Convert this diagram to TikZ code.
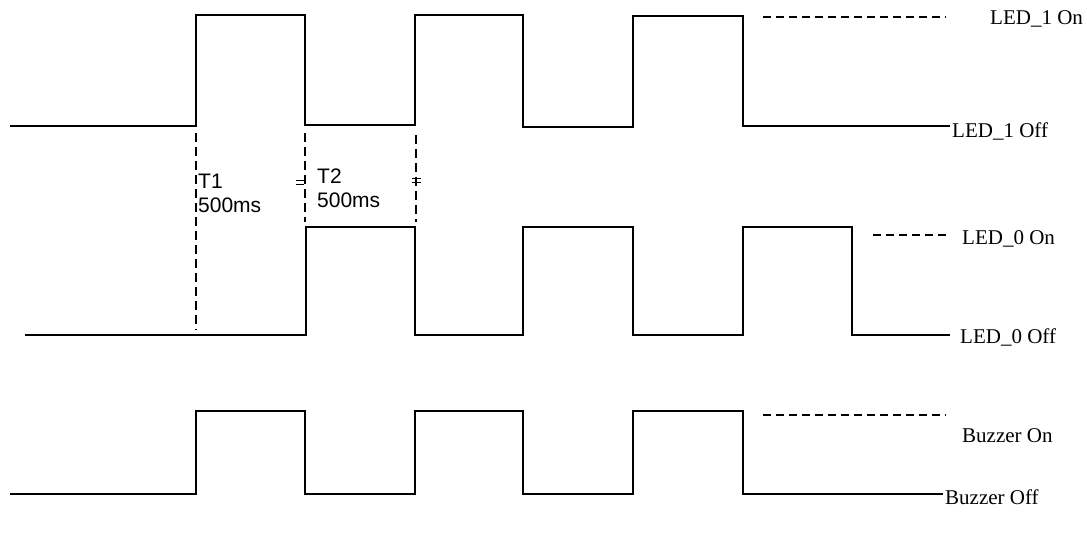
\documentclass[tikz,border=0pt]{standalone}
\usepackage{fontspec}
\setmainfont{Liberation Serif}
\setsansfont{Liberation Sans}
\begin{document}
\begin{tikzpicture}[
  x=1pt,y=-1pt,
  wave/.style={line width=1.5pt,line join=miter},
  level/.style={line width=1.3pt,dash pattern=on 8pt off 5pt},
  guide/.style={line width=1.3pt,dash pattern=on 9pt off 5pt},
  state/.style={anchor=base west,inner sep=0pt,font=\fontsize{21}{24}\selectfont},
  period/.style={anchor=north west,inner sep=0pt,align=left,font=\sffamily\fontsize{21}{24}\selectfont}
]
\useasboundingbox (0,0) rectangle (1087,537);
% LED_1 trace
\draw[wave] (10,126) -| (196,15) -| (305,125) -| (415,15) -| (523,127) -| (633,16) -| (743,126) -- (950,126);
% LED_0 trace
\draw[wave] (25,335) -| (306,227) -| (415,335) -| (523,227) -| (633,335) -| (743,227) -| (852,335) -- (950,335);
% buzzer trace
\draw[wave] (10,494) -| (196,411) -| (305,494) -| (415,411) -| (523,494) -| (633,411) -| (743,494) -- (943,494);
% on levels
\draw[level] (763,17) -- (946,17);
\draw[level] (873,235) -- (947,235);
\draw[level] (763,415) -- (946,415);
% timing guides
\draw[guide] (196,133) -- (196,330);
\draw[guide] (305,133) -- (305,222);
\draw[guide] (416,135) -- (416,222);
\draw[line width=1pt] (296,181) -- (304,181) (296,185) -- (304,185);
\draw[line width=1pt] (412,179) -- (421,179) (412,183) -- (421,183);
\node[period] (t1) at (198,174) {T1\\500ms};
\node[period] (t2) at (317,169) {T2\\500ms};
% state labels
\node[state] (led1on) at (990,25) {LED\_1 On};
\node[state] (led1off) at (952,138) {LED\_1 Off};
\node[state] (led0on) at (962,245) {LED\_0 On};
\node[state] (led0off) at (960,343) {LED\_0 Off};
\node[state] (buzon) at (962,442) {Buzzer On};
\node[state] (buzoff) at (945,504) {Buzzer Off};
\end{tikzpicture}
\end{document}
